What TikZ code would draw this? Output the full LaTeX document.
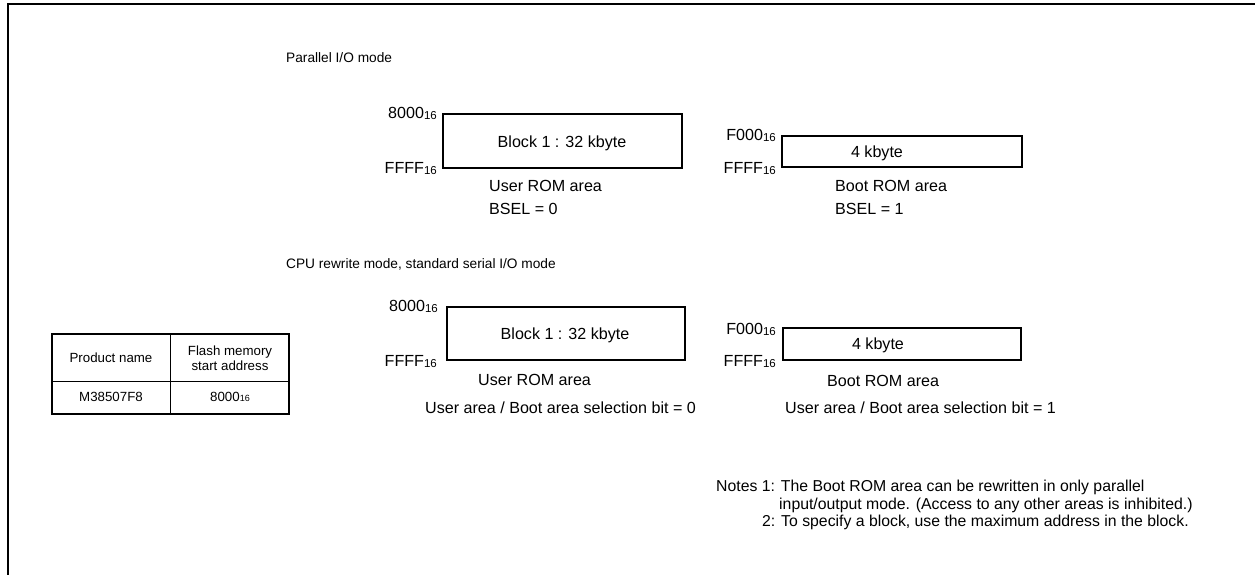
\documentclass[tikz,border=0pt]{standalone}
\usepackage{fontspec}
\setmainfont{Liberation Sans}
\usepackage{tikz}
\usetikzlibrary{positioning}

\newcommand{\hx}[1]{#1\raisebox{-0.6pt}{\fontsize{11.5}{11.5}\selectfont 16}}
\newcommand{\hxs}[1]{#1\raisebox{-0.5pt}{\fontsize{9}{9}\selectfont 16}}

\begin{document}
\begin{tikzpicture}[x=1pt,y=1pt,yscale=-1,xscale=1,
  membox/.style={draw, line width=1.1pt, inner sep=0},
  lbl/.style={font=\fontsize{16.1}{18}\selectfont, inner sep=0, text height=11.5, text depth=0},
  head/.style={font=\fontsize{13.7}{16}\selectfont, inner sep=0, text height=10, text depth=0},
  notetxt/.style={font=\fontsize{15.8}{18}\selectfont, inner sep=0, text height=11.3, text depth=0},
  tbl/.style={font=\fontsize{13.3}{15}\selectfont, inner sep=0, align=center}]
\useasboundingbox (0,0) rectangle (1255,575);

%Shape: Frame [id:frame]
\draw [line width=2pt] (8,575) -- (8,4) -- (1255,4) ;

%Text Node: headings
\node [head, anchor=west] (hdpar) at (286,58) {Parallel I/O mode};
\node [head, anchor=west] (hdcpu) at (286,263) {CPU rewrite mode, standard serial I/O mode};

%Shape: Rectangle [id:userA]
\node [membox, minimum width=239, minimum height=54, lbl] (userA) at (562.5,141) {};
\node [lbl] (blkA) at (562,142) {Block 1 : 32 kbyte};
\node [lbl, anchor=east] (topA) at (437,113) {\hx{8000}};
\node [lbl, anchor=east] (endA) at (437,168) {\hx{FFFF}};
\node [lbl, anchor=west] (areaA) at (489,186) {User ROM area};
\node [lbl, anchor=west] (selA) at (489,209) {BSEL = 0};

%Shape: Rectangle [id:bootB]
\node [membox, minimum width=240, minimum height=31] (bootB) at (902,151.5) {};
\node [lbl] (kbB) at (877,152) {4 kbyte};
\node [lbl, anchor=east] (topB) at (776,135) {\hx{F000}};
\node [lbl, anchor=east] (endB) at (776,168) {\hx{FFFF}};
\node [lbl, anchor=west] (areaB) at (835,186) {Boot ROM area};
\node [lbl, anchor=west] (selB) at (835,209) {BSEL = 1};

%Shape: Rectangle [id:userC]
\node [membox, minimum width=238, minimum height=53] (userC) at (566,333.5) {};
\node [lbl] (blkC) at (565,334) {Block 1 : 32 kbyte};
\node [lbl, anchor=east] (topC) at (438,306) {\hx{8000}};
\node [lbl, anchor=east] (endC) at (437,361) {\hx{FFFF}};
\node [lbl, anchor=west] (areaC) at (478,380) {User ROM area};
\node [lbl, anchor=west] (selC) at (425,408) {User area / Boot area selection bit = 0};

%Shape: Rectangle [id:bootD]
\node [membox, minimum width=238, minimum height=32] (bootD) at (902,344) {};
\node [lbl] (kbD) at (878,344) {4 kbyte};
\node [lbl, anchor=east] (topD) at (776,329) {\hx{F000}};
\node [lbl, anchor=east] (endD) at (776,361) {\hx{FFFF}};
\node [lbl, anchor=west] (areaD) at (827,381) {Boot ROM area};
\node [lbl, anchor=west] (selD) at (785,408) {User area / Boot area selection bit = 1};

%Shape: Table [id:prodtbl]
\draw [line width=1.2pt] (52,334) rectangle (289,414) ;
\draw [line width=0.8pt] (170,334) -- (170,414) ;
\draw [line width=0.8pt] (52,381) -- (289,381) ;
\node [tbl] (prodhd) at (111,358) {Product name};
\node [tbl] (addrhd) at (230,358) {Flash memory\\start address};
\node [tbl] (prodnm) at (111,397) {M38507F8};
\node [tbl] (addrvl) at (230,397) {\hxs{8000}};

%Text Node: notes
\node [notetxt, anchor=west] (note1) at (716,486) {Notes 1: The Boot ROM area can be rewritten in only parallel};
\node [notetxt, anchor=west] (note1b) at (779,503.5) {input/output mode. (Access to any other areas is inhibited.)};
\node [notetxt, anchor=west] (note2) at (762,521) {2: To specify a block, use the maximum address in the block.};

\end{tikzpicture}
\end{document}
